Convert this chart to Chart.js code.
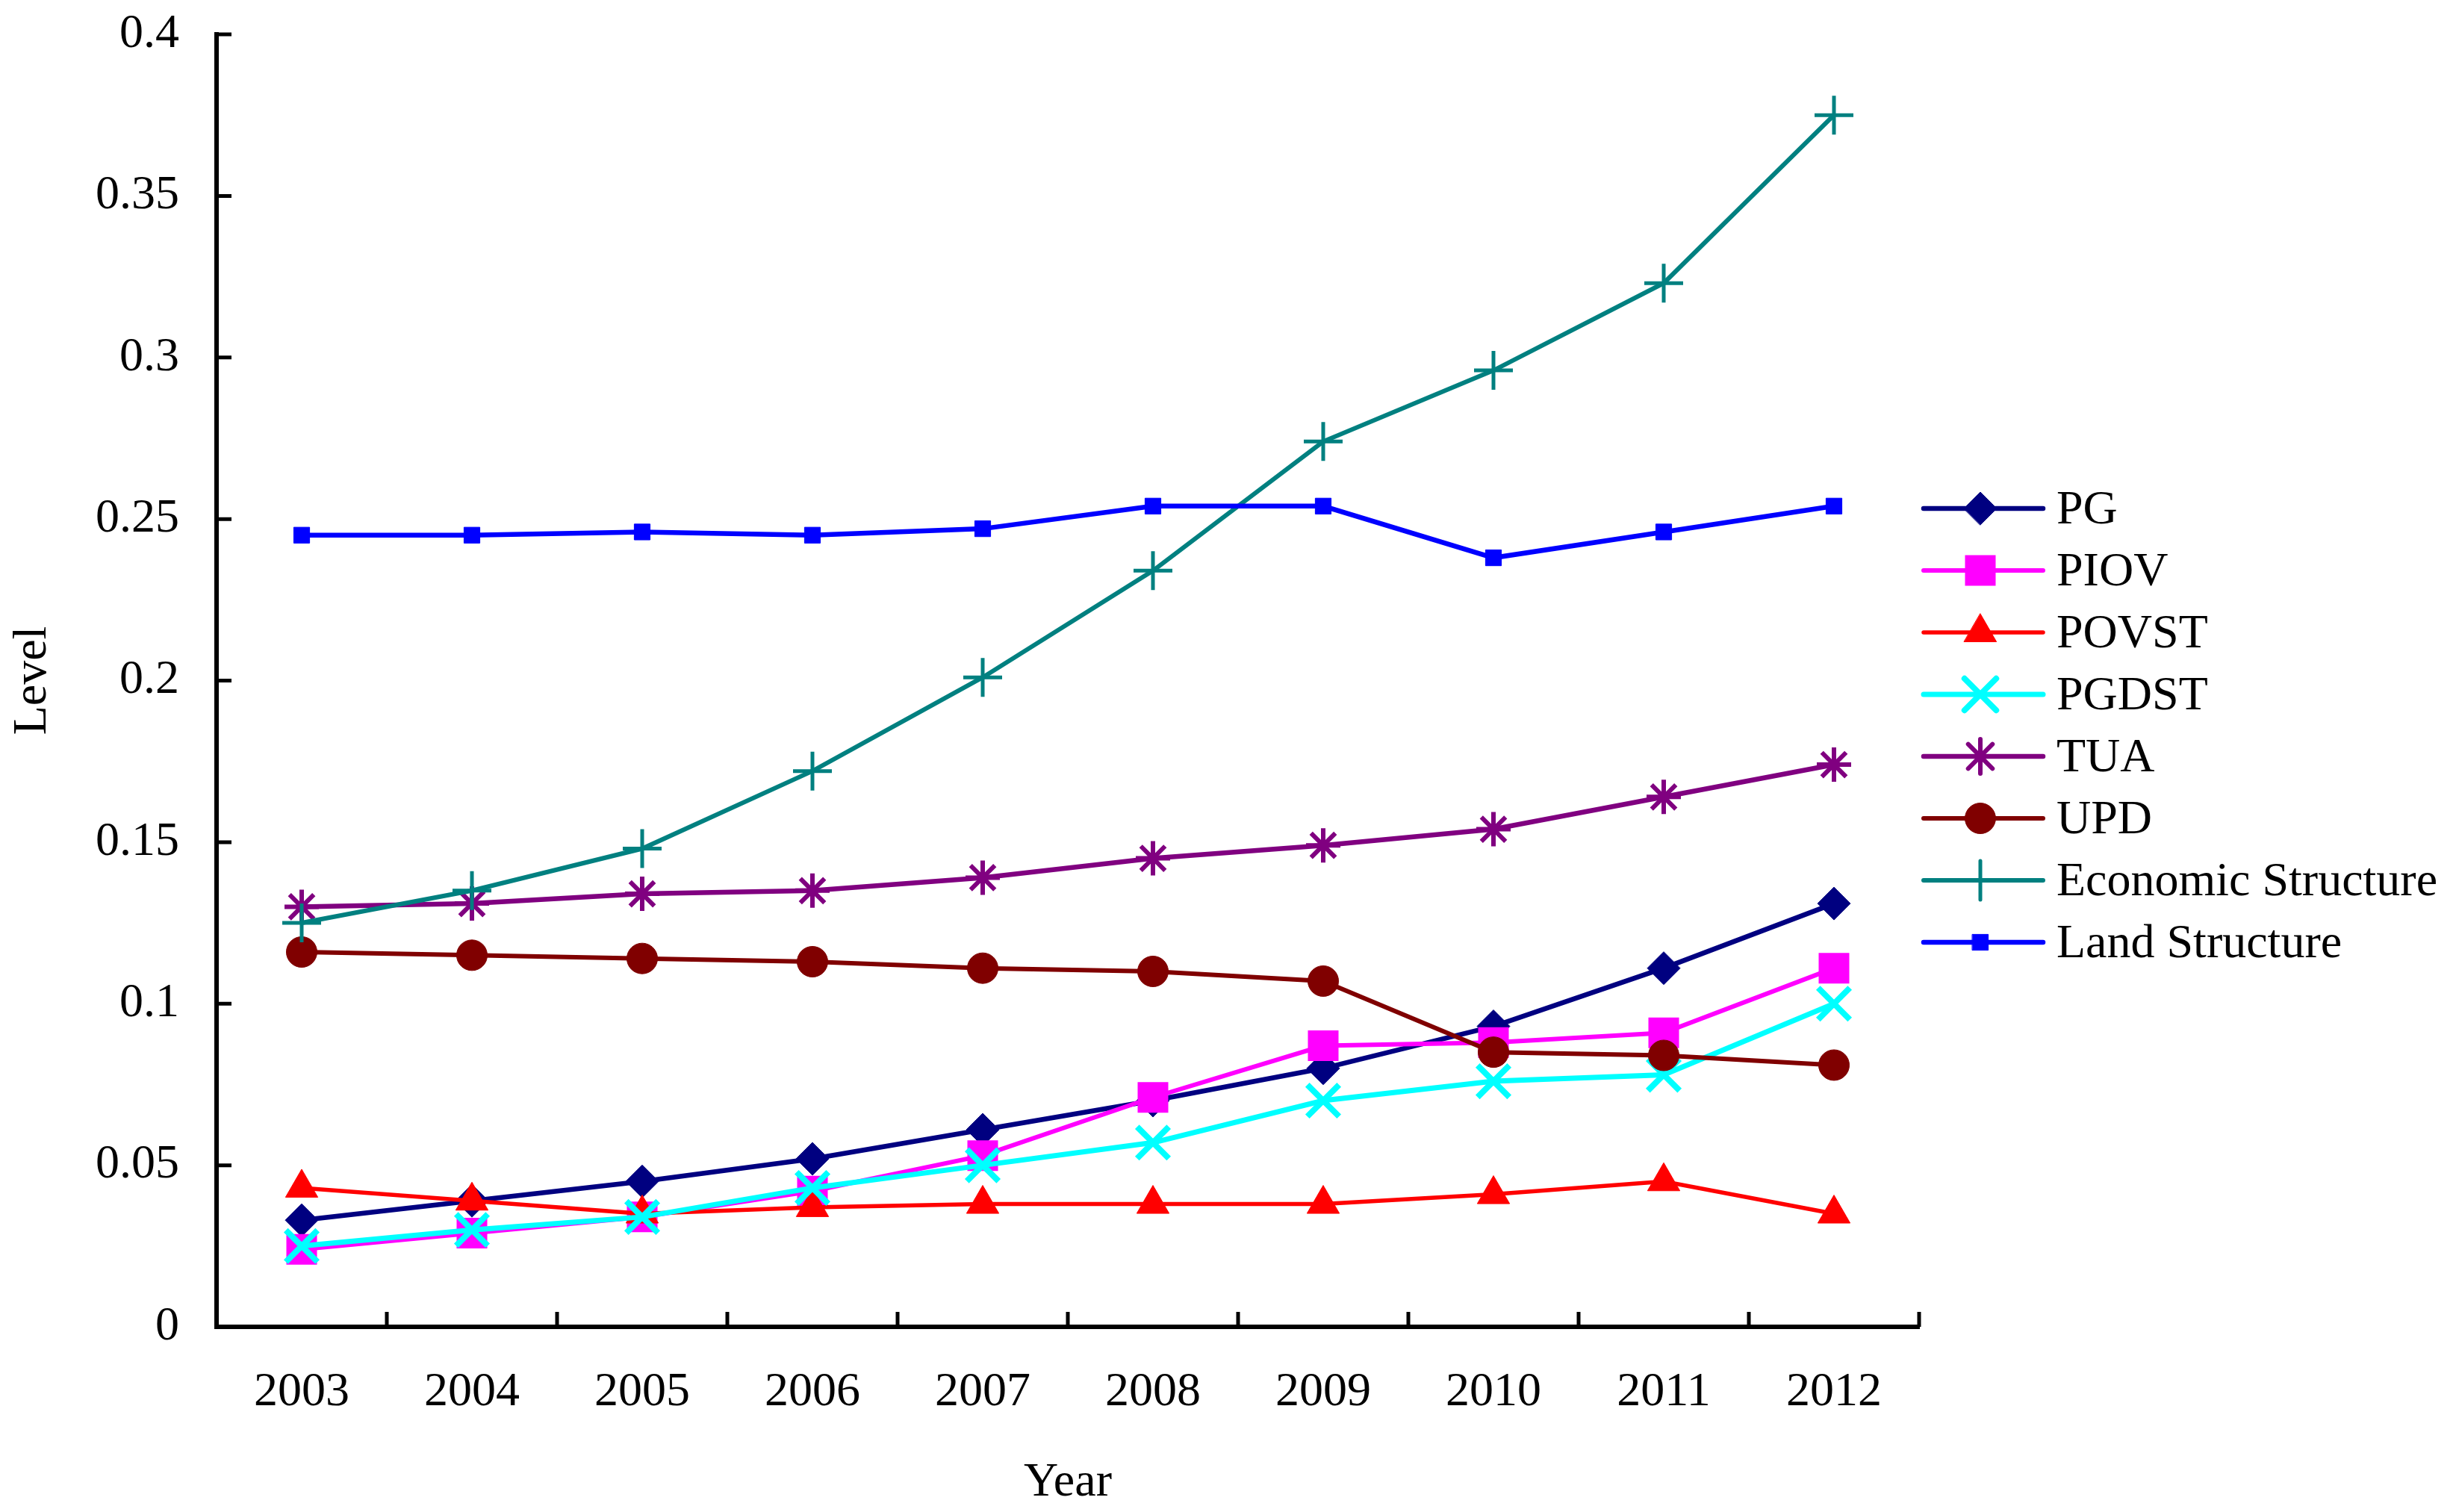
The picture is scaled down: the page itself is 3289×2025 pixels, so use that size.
<!DOCTYPE html>
<html>
<head>
<meta charset="utf-8">
<script src="https://cdn.jsdelivr.net/npm/chart.js@4.4.1/dist/chart.umd.min.js"></script>
<style>
  html, body { margin: 0; padding: 0; background: #fff; }
  #wrap { width: 3289px; height: 2025px; }
</style>
</head>
<body>
<div id="wrap"><canvas id="levelChart"></canvas></div>
<script>
// --- DATI ---
const years = ['2003', '2004', '2005', '2006', '2007', '2008', '2009', '2010', '2011', '2012'];

const pgValues       = [0.033, 0.039, 0.045, 0.052, 0.061, 0.070, 0.080, 0.093, 0.111, 0.131];
const piovValues     = [0.024, 0.029, 0.034, 0.042, 0.053, 0.071, 0.087, 0.088, 0.091, 0.111];
const povstValues    = [0.043, 0.039, 0.035, 0.037, 0.038, 0.038, 0.038, 0.041, 0.045, 0.035];
const pgdstValues    = [0.025, 0.030, 0.034, 0.043, 0.050, 0.057, 0.070, 0.076, 0.078, 0.100];
const tuaValues      = [0.130, 0.131, 0.134, 0.135, 0.139, 0.145, 0.149, 0.154, 0.164, 0.174];
const updValues      = [0.116, 0.115, 0.114, 0.113, 0.111, 0.110, 0.107, 0.085, 0.084, 0.081];
const economicValues = [0.125, 0.135, 0.148, 0.172, 0.201, 0.234, 0.274, 0.296, 0.323, 0.375];
const landValues     = [0.245, 0.245, 0.246, 0.245, 0.247, 0.254, 0.254, 0.238, 0.246, 0.254];

const yTickValues = [0, 0.05, 0.1, 0.15, 0.2, 0.25, 0.3, 0.35, 0.4];
const yTickLabels = ['0', '0.05', '0.1', '0.15', '0.2', '0.25', '0.3', '0.35', '0.4'];

const FONT = 'Liberation Serif';

// serie: etichetta, valori, colore, stile del punto
function serie(label, data, color, style, radius, borderW, lineW) {
    return {
        label: label,
        data: data,
        borderColor: color,
        backgroundColor: color,
        pointBackgroundColor: color,
        pointBorderColor: color,
        pointStyle: style,
        pointRadius: radius,
        pointHoverRadius: radius,
        pointBorderWidth: borderW,
        borderWidth: lineW,
        tension: 0,
        fill: false
    };
}

const datasets = [
    serie('PG', pgValues, '#000080', 'rectRot', 22, 1, 6.5),
    serie('PIOV', piovValues, '#FF00FF', 'rect', 29, 0, 6),
    serie('POVST', povstValues, '#FF0000', 'triangle', 25, 1, 5.5),
    serie('PGDST', pgdstValues, '#00FFFF', 'crossRot', 30, 8, 7),
    serie('TUA', tuaValues, '#800080', 'star', 23, 6, 6.5),
    serie('UPD', updValues, '#800000', 'circle', 20.5, 1, 6),
    serie('Economic Structure', economicValues, '#008080', 'cross', 26, 5, 6),
    serie('Land Structure', landValues, '#0000FF', 'rect', 15, 1, 6.5)
];
// le serie successive vanno disegnate sopra (come in Excel)
datasets.forEach((d, i) => { d.order = datasets.length - i; });

// tacche interne sugli assi + legenda con linea e marcatore
const axisExtras = {
    id: 'axisExtras',
    afterDraw(chart) {
        const ctx = chart.ctx;
        const area = chart.chartArea;
        const xs = chart.scales.x;
        const ys = chart.scales.y;
        ctx.save();
        ctx.strokeStyle = '#000';
        ctx.lineWidth = 5;
        ctx.beginPath();
        yTickValues.forEach(v => {
            const y = ys.getPixelForValue(v);
            ctx.moveTo(area.left, y);
            ctx.lineTo(area.left + 20, y);
        });
        for (let i = 0; i <= years.length; i++) {
            const x = xs.getPixelForValue(i - 0.5);
            ctx.moveTo(x, area.bottom);
            ctx.lineTo(x, area.bottom - 20);
        }
        ctx.stroke();

        // legenda
        const top = 681, gap = 83;
        const x0 = 2576, x1 = 2736, xm = 2652, tx = 2754;
        ctx.font = '64px "' + FONT + '"';
        ctx.textBaseline = 'middle';
        ctx.textAlign = 'left';
        chart.data.datasets.forEach((d, i) => {
            const y = top + i * gap;
            ctx.strokeStyle = d.borderColor;
            ctx.lineWidth = d.borderWidth;
            ctx.lineCap = 'round';
            ctx.beginPath();
            ctx.moveTo(x0, y);
            ctx.lineTo(x1, y);
            ctx.stroke();
            ctx.fillStyle = d.pointBackgroundColor;
            ctx.strokeStyle = d.pointBorderColor;
            ctx.lineWidth = d.pointBorderWidth;
            if (Chart.helpers && Chart.helpers.drawPoint) {
                Chart.helpers.drawPoint(ctx, {
                    pointStyle: d.pointStyle,
                    radius: d.pointRadius,
                    rotation: 0,
                    borderWidth: d.pointBorderWidth
                }, xm, y);
            }
            ctx.lineCap = 'butt';
            ctx.fillStyle = '#000';
            ctx.fillText(d.label, tx, y + 3);
        });
        ctx.restore();
    }
};

const ctx = document.getElementById('levelChart').getContext('2d');
const myChart = new Chart(ctx, {
    type: 'line',
    data: { labels: years, datasets: datasets },
    plugins: [axisExtras],
    options: {
        responsive: true,
        maintainAspectRatio: false,
        devicePixelRatio: 1,
        animation: false,
        layout: { autoPadding: false, padding: { top: 46, right: 719, bottom: 0, left: 0 } },
        plugins: {
            legend: { display: false },
            tooltip: { enabled: false }
        },
        scales: {
            x: {
                type: 'category',
                offset: true,
                grid: { drawOnChartArea: false, drawTicks: false },
                border: { display: true, color: '#000', width: 6 },
                ticks: {
                    color: '#000',
                    padding: 50,
                    maxRotation: 0,
                    autoSkip: false,
                    font: { family: FONT, size: 64 }
                },
                title: {
                    display: true,
                    text: 'Year',
                    color: '#000',
                    font: { family: FONT, size: 64 },
                    padding: { top: 0, bottom: 0 }
                },
                afterFit(scale) {
                    scale.height = 248;
                    scale.paddingLeft = 0;
                    scale.paddingRight = 0;
                }
            },
            y: {
                min: 0,
                max: 0.4,
                grid: { drawOnChartArea: false, drawTicks: false },
                border: { display: true, color: '#000', width: 6 },
                afterBuildTicks(scale) {
                    scale.ticks = yTickValues.map(v => ({ value: v }));
                },
                ticks: {
                    color: '#000',
                    padding: 50,
                    font: { family: FONT, size: 64 },
                    callback: (v, i) => yTickLabels[i]
                },
                title: {
                    display: true,
                    text: 'Level',
                    color: '#000',
                    font: { family: FONT, size: 64 },
                    padding: { top: 6, bottom: 0 }
                },
                afterFit(scale) {
                    scale.width = 290;
                    scale.paddingTop = 0;
                    scale.paddingBottom = 0;
                }
            }
        }
    }
});
</script>
</body>
</html>
